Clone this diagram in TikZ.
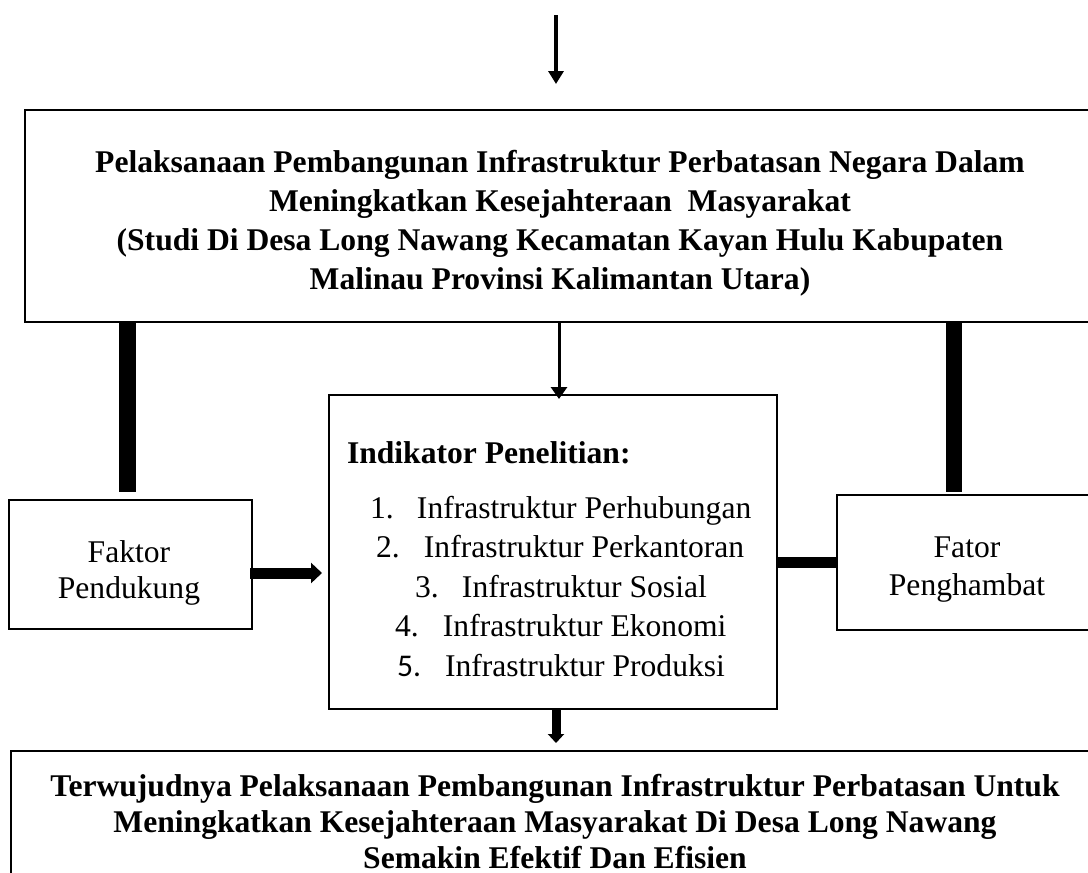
\documentclass[tikz,border=0pt]{standalone}
\usepackage{fontspec}
\setmainfont{Liberation Serif}
\newfontfamily\calib{Carlito}
\usetikzlibrary{arrows.meta}
\begin{document}
\begin{tikzpicture}[x=1pt,y=-1pt,
  frame/.style={draw, line width=#1, inner sep=0pt, outer sep=0pt, rectangle},
  frame/.default=2.8pt,
  txt/.style={inner sep=0pt, outer sep=0pt, font=\fontsize{31.6}{39}\selectfont},
  btxt/.style={txt, font=\fontsize{31.6}{39}\selectfont\bfseries},
  thinarrow/.style={line width=3.6pt, -{Triangle[length=13pt,width=15pt]}},
  bar/.style={line width=#1},
]
\clip (0,0) rectangle (1088,873);
\fill[white] (0,0) rectangle (1088,873);

% boxes
\node[frame, minimum width=1070pt, minimum height=212pt] (top) at (560,216) {};
\node[frame, minimum width=448pt, minimum height=314pt] (mid) at (553,552) {};
\node[frame=2pt, minimum width=243pt, minimum height=129pt] (fak) at (130.5,564.5) {};
\node[frame, minimum width=263pt, minimum height=135pt] (fat) at (968.5,562.5) {};
\node[frame=2pt, minimum width=1089pt, minimum height=149pt] (bot) at (555.5,825.5) {};

% texts
\node[btxt, align=center, anchor=north] (toptext) at (560,144.7)
  {\strut Pelaksanaan Pembangunan Infrastruktur Perbatasan Negara Dalam\\
   \strut Meningkatkan Kesejahteraan\ \ Masyarakat\\
   \strut (Studi Di Desa Long Nawang Kecamatan Kayan Hulu Kabupaten\\
   \strut Malinau Provinsi Kalimantan Utara)};
\node[btxt, align=center, anchor=north, font=\fontsize{31.6}{36}\selectfont\bfseries] (bottext) at (555,771)
  {\strut Terwujudnya Pelaksanaan Pembangunan Infrastruktur Perbatasan Untuk\\
   \strut Meningkatkan Kesejahteraan Masyarakat Di Desa Long Nawang\\
   Semakin Efektif Dan Efisien};
\node[btxt, anchor=base west] (head) at (347,463) {Indikator Penelitian:};
\node[txt, anchor=base west] (i1) at (370,518) {\makebox[47pt][l]{1.}Infrastruktur Perhubungan};
\node[txt, anchor=base west] (i2) at (376,557.5) {\makebox[48pt][l]{2.}Infrastruktur Perkantoran};
\node[txt, anchor=base west] (i3) at (415,597) {\makebox[47pt][l]{3.}Infrastruktur Sosial};
\node[txt, anchor=base west] (i4) at (395,636.5) {\makebox[48pt][l]{4.}Infrastruktur Ekonomi};
\node[txt, anchor=base west] (i5) at (397,676) {\makebox[48pt][l]{\calib 5.}Infrastruktur Produksi};
\node[txt, align=center, anchor=north, font=\fontsize{31.6}{36}\selectfont] (faktext) at (129,536.8)
  {\strut Faktor\\ \strut Pendukung};
\node[txt, align=center, anchor=north, font=\fontsize{31.6}{38}\selectfont] (fattext) at (967,530.4)
  {\strut Fator\\ \strut Penghambat};

% connectors
\coordinate (inS) at (556,15);
\coordinate (inE) at (556,84);
\draw[thinarrow] (inS) -- (inE);

\coordinate (mx) at (559,0);
\draw[line width=3pt, -{Triangle[length=12pt,width=16pt]}] (top.south -| mx) -- ([yshift=-4pt]mid.north -| mx);

\coordinate (lb) at (127.5,0);
\draw[bar=17pt] (top.south -| lb) -- ([yshift=8pt]fak.north -| lb);
\coordinate (rb) at (954,0);
\draw[bar=16pt] (top.south -| rb) -- ([yshift=3pt]fat.north -| rb);

\coordinate (fy) at (0,573);
\draw[line width=11pt, -{Triangle[length=11pt,width=20pt]}] ([xshift=-2pt]fak.east |- fy) -- ([xshift=-7pt]mid.west |- fy);

\coordinate (ry) at (0,562);
\draw[bar=11pt] (mid.east |- ry) -- (fat.west |- ry);

\coordinate (bx) at (556,0);
\draw[line width=9pt, -{Triangle[length=9pt,width=16pt]}] (mid.south -| bx) -- ([yshift=8pt]bot.north -| bx);
\end{tikzpicture}
\end{document}
